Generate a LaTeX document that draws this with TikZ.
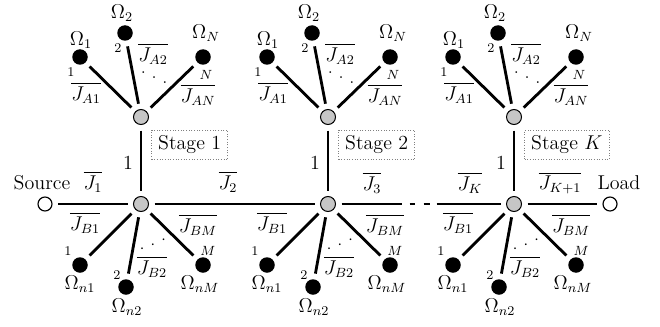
\documentclass[tikz,border=0pt]{standalone}
\usepackage{amsmath, amssymb}
\usetikzlibrary{positioning,calc}
\tikzset{
  hubnode/.style={circle, draw, line width=0.6pt, fill=gray!45, minimum size=9pt, inner sep=0pt},
  leafnode/.style={circle, fill=black, minimum size=9.3pt, inner sep=0pt},
  portnode/.style={circle, draw, line width=0.7pt, fill=white, minimum size=8.4pt, inner sep=0pt},
  stagebox/.style={draw=gray, densely dotted, line width=0.6pt, font=\large, minimum height=17pt, inner xsep=4pt, anchor=west},
  linkline/.style={line width=1.7pt, shorten <=3.3pt, shorten >=3.3pt},
  numlabel/.style={font=\footnotesize, inner sep=0pt},
  txtlabel/.style={font=\large, inner sep=0pt},
  dotlabel/.style={inner sep=0pt}
}
\newcommand{\threedots}{$\cdot$\hspace{4.2pt}$\cdot$\hspace{4.2pt}$\cdot$}

\begin{document}
\begin{tikzpicture}[x=0.6pt, y=-0.6pt]
  \useasboundingbox (0,0) rectangle (660,326);
  % source and load
  \node[portnode] (src) at (45,204) {};
  \node[portnode] (load) at (610,204) {};
  \node[txtlabel] (srclab) at (42,183) {Source};
  \node[txtlabel] (loadlab) at (619,183) {Load};

  % the three stages
  \foreach \x/\s/\k in {141/1/1, 328/2/2, 514/3/$K$} {
    \node[hubnode] (top\s) at (\x,117) {};
    \node[hubnode] (bot\s) at (\x,204) {};
    \node[leafnode] (ua\s) at (\x-61,57) {};
    \node[leafnode] (ub\s) at (\x-16,33) {};
    \node[leafnode] (uc\s) at (\x+62,57) {};
    \node[leafnode] (la\s) at (\x-61,265) {};
    \node[leafnode] (lb\s) at (\x-15,287) {};
    \node[leafnode] (lc\s) at (\x+62,265) {};
    \draw[linkline] (top\s) -- (ua\s);
    \draw[linkline] (top\s) -- (ub\s);
    \draw[linkline] (top\s) -- (uc\s);
    \draw[linkline] (bot\s) -- (la\s);
    \draw[linkline] (bot\s) -- (lb\s);
    \draw[linkline] (bot\s) -- (lc\s);
    \draw[linkline] (top\s) -- (bot\s);
    \node[txtlabel] (one\s) at (\x-13,163) {1};
    \node[stagebox] (box\s) at (\x+10,145) {Stage \k};
    % upper labels
    \node[txtlabel] at (\x-60,40) {$\Omega_1$};
    \node[numlabel] at (\x-70,72) {1};
    \node[txtlabel] at (\x-55,93) {$\overline{J_{A1}}$};
    \node[txtlabel] at (\x-19,13) {$\Omega_2$};
    \node[numlabel] at (\x-23,48) {2};
    \node[txtlabel] at (\x+12,54) {$\overline{J_{A2}}$};
    \node[dotlabel, rotate=-23] at (\x+13,78) {\threedots};
    \node[txtlabel] at (\x+65,33) {$\Omega_N$};
    \node[numlabel] at (\x+65,75) {$N$};
    \node[txtlabel] at (\x+57,95) {$\overline{J_{AN}}$};
    % lower labels
    \node[txtlabel] at (\x-56,223) {$\overline{J_{B1}}$};
    \node[numlabel] at (\x-73,251) {1};
    \node[txtlabel] at (\x-61,284) {$\Omega_{n1}$};
    \node[numlabel] at (\x-24,275) {2};
    \node[txtlabel] at (\x-14,307) {$\Omega_{n2}$};
    \node[dotlabel, rotate=23] at (\x+12,245) {\threedots};
    \node[txtlabel] at (\x+11,267) {$\overline{J_{B2}}$};
    \node[txtlabel] at (\x+57,225) {$\overline{J_{BM}}$};
    \node[numlabel] at (\x+67,251) {$M$};
    \node[txtlabel] at (\x+59,284) {$\Omega_{nM}$};
  }

  % main line
  \draw[linkline] (src) -- (bot1);
  \draw[linkline] (bot1) -- (bot2);
  \draw[linkline, dash pattern=on 36pt off 4.8pt on 3pt off 5.4pt on 3.6pt off 4.2pt on 60pt] (bot2) -- (bot3);
  \draw[linkline] (bot3) -- (load);
  \node[txtlabel] (j1) at (93,182) {$\overline{J_1}$};
  \node[txtlabel] (j2) at (228,182) {$\overline{J_2}$};
  \node[txtlabel] (j3) at (372,183) {$\overline{J_3}$};
  \node[txtlabel] (jk) at (470,183) {$\overline{J_K}$};
  \node[txtlabel] (jk1) at (560,183) {$\overline{J_{K+1}}$};
\end{tikzpicture}
\end{document}
